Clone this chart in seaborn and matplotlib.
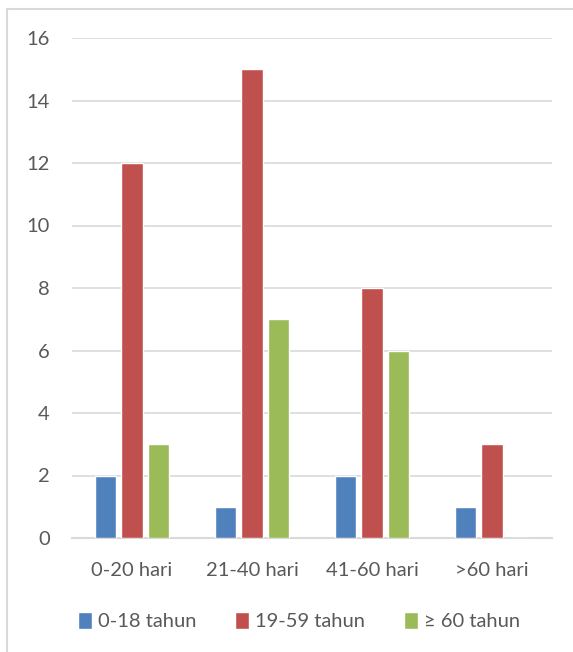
import matplotlib
matplotlib.use("Agg")
import matplotlib.pyplot as plt
from matplotlib.patches import Rectangle
import seaborn as sns
import pandas as pd

categories = ["0-20 hari", "21-40 hari", "41-60 hari", ">60 hari"]
series_names = ["0-18 tahun", "19-59 tahun", "\u2265 60 tahun"]
age_0_18 = [2, 1, 2, 1]
age_19_59 = [12, 15, 8, 3]
age_60_plus = [3, 7, 6, 0]
y_ticks = [0, 2, 4, 6, 8, 10, 12, 14, 16]

colors = ["#4F81BD", "#C0504D", "#9BBB59"]
text_color = "#595959"
grid_color = "#D9D9D9"

df = pd.DataFrame({
    "kategori": categories * 3,
    "kelompok": [series_names[0]] * 4 + [series_names[1]] * 4 + [series_names[2]] * 4,
    "nilai": age_0_18 + age_19_59 + age_60_plus,
})

sns.set_theme(style="white")
plt.rcParams["font.family"] = ["Lato", "DejaVu Sans"]

W, H = 573, 652
fig = plt.figure(figsize=(W / 100, H / 100), dpi=100)
ax = fig.add_axes([72 / W, 114 / H, 480 / W, 500 / H])

sns.barplot(data=df, x="kategori", y="nilai", hue="kelompok",
            order=categories, hue_order=series_names,
            palette=colors, width=0.66, gap=0.2, saturation=1,
            errorbar=None, ax=ax, legend=True, zorder=3)

ax.set_ylim(0, 16)
ax.set_xlim(-0.5, 3.5)
ax.set_yticks(y_ticks)
ax.set_yticklabels([str(v) for v in y_ticks])
ax.set_xlabel("")
ax.set_ylabel("")
ax.grid(axis="y", color=grid_color, linewidth=1.2, zorder=0)
ax.set_axisbelow(True)
for s in ["top", "right", "left"]:
    ax.spines[s].set_visible(False)
ax.spines["bottom"].set_color(grid_color)
ax.spines["bottom"].set_linewidth(1.5)
ax.tick_params(axis="both", length=0, colors=text_color, labelsize=14.5)
ax.tick_params(axis="y", pad=16)
ax.tick_params(axis="x", pad=17)

handles, labels = ax.get_legend_handles_labels()
ax.get_legend().remove()
fig.legend(handles, labels, loc="center", bbox_to_anchor=(299 / W, (H - 621) / H),
           ncol=3, frameon=False, fontsize=14.5, labelcolor=text_color,
           handlelength=0.7, handleheight=0.9, handletextpad=0.3, columnspacing=1.9)

fig.add_artist(Rectangle((7 / W, -0.05), 1.0, (H - 9) / H + 0.05,
                         transform=fig.transFigure, fill=False,
                         edgecolor=grid_color, linewidth=1.5))

fig.savefig("out.png", dpi=100)
